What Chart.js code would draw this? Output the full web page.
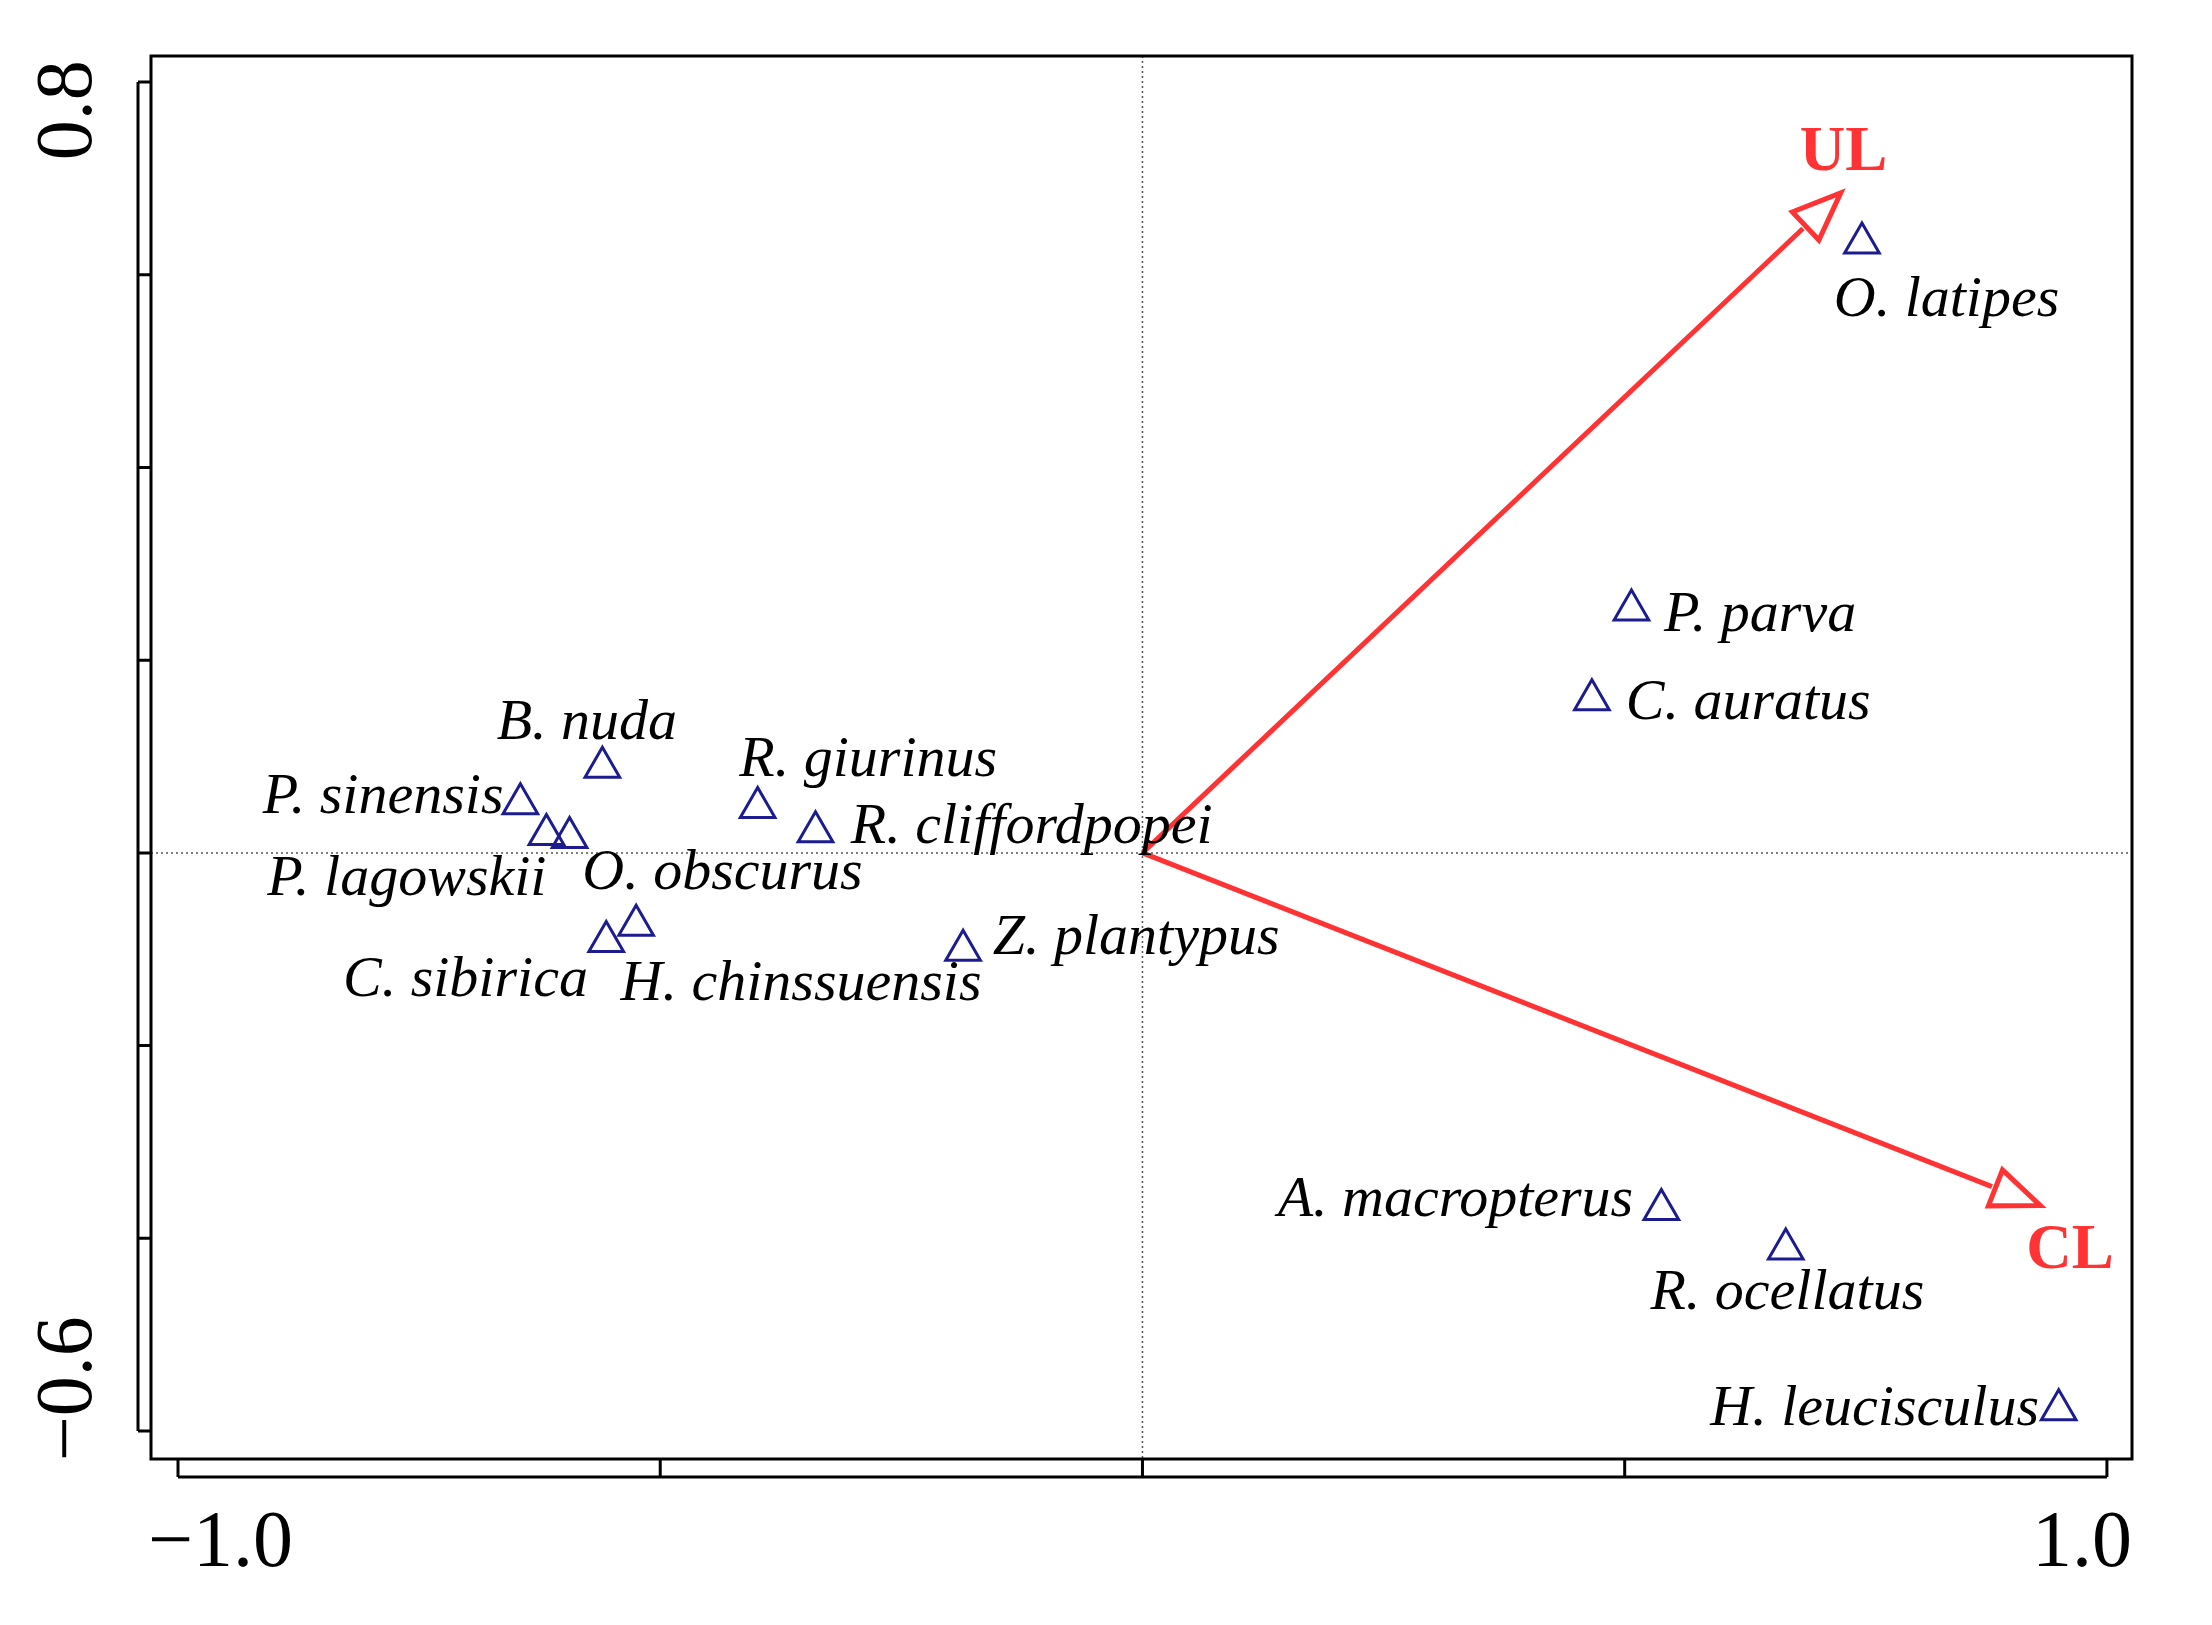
<!DOCTYPE html>
<html><head><meta charset="utf-8">
<script src="https://cdn.jsdelivr.net/npm/chart.js@4"></script>
<style>html,body{margin:0;padding:0;background:#fff}</style>
</head><body>
<canvas id="c" width="2212" height="1625"></canvas>
<script>
const species = ["O. latipes","P. parva","C. auratus","B. nuda","P. sinensis","P. lagowskii","O. obscurus","R. giurinus","R. cliffordpopei","C. sibirica","H. chinssuensis","Z. plantypus","A. macropterus","R. ocellatus","H. leucisculus"];
const axis1 = [0.746,0.507,0.466,-0.560,-0.645,-0.618,-0.594,-0.399,-0.339,-0.556,-0.525,-0.186,0.538,0.667,0.950];
const axis2 = [0.633,0.252,0.159,0.089,0.051,0.019,0.016,0.047,0.022,-0.092,-0.075,-0.101,-0.370,-0.411,-0.578];
const envNames = ["UL","CL"];
const envX = [0.724,0.931];
const envY = [0.685,-0.366];
const xTicks = [-1.0,-0.5,0,0.5,1.0];
const yTicks = [0.8,0.6,0.4,0.2,0,-0.2,-0.4,-0.6];
const xTickLabels = {"-1":"-1.0","1":"1.0"};
const yTickLabels = {"0.8":"0.8","-0.6":"-0.6"};

const S = 1.41;
const labelPlace = [[-20,41,'left'],[23,4,'left'],[24,3,'left'],[-11,-31,'center'],[-12,-4,'right'],[0,32,'right'],[9,26,'left'],[-13,-33,'left'],[25,-3,'left'],[-13,28,'right'],[-11,42,'left'],[21,-8,'left'],[-20,-6,'right'],[-96,32,'left'],[-14,0,'right']];
const envLabelPlace = [[2,-28],[21,33]];
const yTickShift = {"0.8":20,"-0.6":-30};

const deco = {
  id:'deco',
  beforeDatasetsDraw(chart){
    const {ctx, chartArea:a, scales:{x,y}} = chart;
    ctx.save();
    ctx.strokeStyle='#555'; ctx.lineWidth=1.5; ctx.setLineDash([2,3]);
    const x0=x.getPixelForValue(0), y0=y.getPixelForValue(0);
    ctx.beginPath(); ctx.moveTo(x0,a.top); ctx.lineTo(x0,a.bottom);
    ctx.moveTo(a.left,y0); ctx.lineTo(a.right,y0); ctx.stroke();
    ctx.setLineDash([]);
    ctx.strokeStyle='#000'; ctx.lineWidth=3;
    ctx.strokeRect(a.left,a.top,a.right-a.left,a.bottom-a.top);
    const ay = a.bottom + 18;
    ctx.beginPath();
    ctx.moveTo(x.getPixelForValue(xTicks[0]),ay); ctx.lineTo(x.getPixelForValue(xTicks[xTicks.length-1]),ay);
    xTicks.forEach(v=>{const p=x.getPixelForValue(v); ctx.moveTo(p,ay); ctx.lineTo(p,a.bottom);});
    const ax = a.left - 13;
    ctx.moveTo(ax,y.getPixelForValue(yTicks[0])); ctx.lineTo(ax,y.getPixelForValue(yTicks[yTicks.length-1]));
    yTicks.forEach(v=>{const p=y.getPixelForValue(v); ctx.moveTo(ax,p); ctx.lineTo(a.left,p);});
    ctx.stroke();
    ctx.fillStyle='#000'; ctx.font='80px "Liberation Serif", serif';
    ctx.textBaseline='top';
    xTicks.forEach(v=>{const t=xTickLabels[String(v)]; if(!t)return; ctx.textAlign = v<0?'left':'right';
      const p=x.getPixelForValue(v); ctx.fillText(t.replace('-','\u2212'), v<0? p-30 : p+25, ay+28);});
    yTicks.forEach(v=>{const t=yTickLabels[String(v)]; if(!t)return; const p=y.getPixelForValue(v)+yTickShift[String(v)]*S;
      ctx.save(); ctx.translate(ax-28,p); ctx.rotate(-Math.PI/2); ctx.textAlign='center'; ctx.textBaseline='bottom';
      ctx.fillText(t.replace('-','\u2212'),0,0); ctx.restore();});
    ctx.strokeStyle='#ff3333'; ctx.lineWidth=5; ctx.lineJoin='miter';
    envNames.forEach((n,i)=>{
      const tx=x.getPixelForValue(envX[i]), ty=y.getPixelForValue(envY[i]);
      const ang=Math.atan2(ty-y0,tx-x0), L=52, w=0.38;
      const bx=tx-L*Math.cos(ang), by=ty-L*Math.sin(ang);
      ctx.beginPath(); ctx.moveTo(x0,y0); ctx.lineTo(bx,by); ctx.stroke();
      ctx.beginPath();
      ctx.moveTo(tx,ty);
      ctx.lineTo(tx-L*Math.cos(ang-w),ty-L*Math.sin(ang-w));
      ctx.lineTo(tx-L*Math.cos(ang+w),ty-L*Math.sin(ang+w));
      ctx.closePath(); ctx.stroke();
      ctx.fillStyle='#ff3333'; ctx.font='bold 63px "Liberation Serif", serif';
      ctx.textAlign='center'; ctx.textBaseline='middle';
      ctx.fillText(n, tx+envLabelPlace[i][0]*S, ty+envLabelPlace[i][1]*S);
    });
    ctx.restore();
  },
  afterDatasetsDraw(chart){
    const {ctx, scales:{x,y}} = chart;
    ctx.save(); ctx.fillStyle='#000'; ctx.font='italic 58px "Liberation Serif", serif'; ctx.textBaseline='middle';
    species.forEach((s,i)=>{const [dx,dy,al]=labelPlace[i]; ctx.textAlign=al;
      ctx.fillText(s, x.getPixelForValue(axis1[i])+dx*S, y.getPixelForValue(axis2[i])+dy*S);});
    ctx.restore();
  }
};

new Chart(document.getElementById('c'),{
  type:'scatter',
  data:{datasets:[{data:species.map((s,i)=>({x:axis1[i],y:axis2[i]})),
    pointStyle:'triangle', pointRadius:20, borderColor:'#1c1c8f', borderWidth:3, backgroundColor:'rgba(0,0,0,0)'}]},
  options:{responsive:false, devicePixelRatio:1, animation:false,
    layout:{padding:{left:151,top:56,right:80,bottom:166}},
    plugins:{legend:{display:false},tooltip:{enabled:false}},
    scales:{x:{display:false,min:-1.028,max:1.026},y:{display:false,min:-0.629,max:0.827}}},
  plugins:[deco]
});
</script>
</body></html>
